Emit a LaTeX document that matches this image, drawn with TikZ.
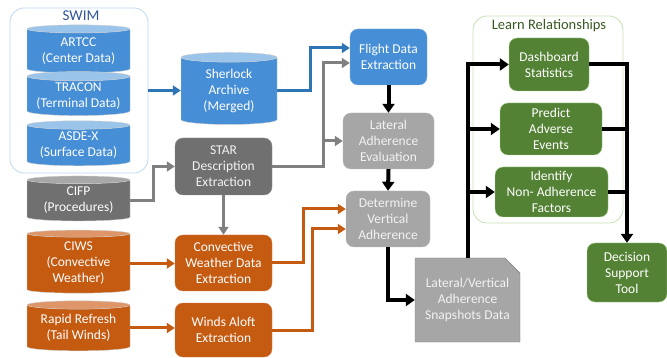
\documentclass[tikz,border=0pt]{standalone}
\usepackage{fontspec}
\setmainfont{Carlito}
\usetikzlibrary{arrows.meta}
\usetikzlibrary{shapes.geometric}
\usetikzlibrary{shapes.misc}
\usetikzlibrary{positioning}
\definecolor{bluebody}{RGB}{70,142,214}
\definecolor{bluetop}{RGB}{155,196,234}
\definecolor{blueline}{RGB}{46,117,182}
\definecolor{grayboxdark}{RGB}{112,112,112}
\definecolor{graytop}{RGB}{168,168,168}
\definecolor{grayboxlight}{RGB}{166,166,166}
\definecolor{grayline}{RGB}{128,128,128}
\definecolor{orangebody}{RGB}{197,90,17}
\definecolor{orangetop}{RGB}{222,150,104}
\definecolor{greenbox}{RGB}{84,130,53}
\definecolor{greenedge}{RGB}{169,209,142}
\definecolor{swimedge}{RGB}{189,215,238}
\definecolor{learnedge}{RGB}{197,224,180}
\definecolor{swimtext}{RGB}{47,85,151}
\definecolor{learntext}{RGB}{56,87,35}
\tikzstyle{db} = [cylinder, shape border rotate=90, aspect=0.11, cylinder uses custom fill, align=center, text=white, minimum width=103pt, inner sep=0pt, draw=white!60!gray, line width=0.4pt]
\tikzstyle{proc} = [rectangle, rounded corners=8pt, align=center, inner sep=2pt, line width=0.4pt]
\tikzstyle{group} = [rectangle, rounded corners=14pt, line width=0.8pt]
\tikzstyle{link} = [line width=3pt, -{Triangle[length=8pt,width=10pt]}]
\tikzstyle{blink} = [line width=4pt, -{Triangle[length=9pt,width=12pt]}]

\begin{document}
\begin{tikzpicture}[x=1pt, y=-1pt, font=\fontsize{13.5}{16}\selectfont]
    \useasboundingbox (0,0) rectangle (667,358);

    \node[group, draw=swimedge, minimum width=138pt, minimum height=165pt](Swim) at (79,90.5) {};
    \node[text=swimtext, font=\fontsize{15}{18}\selectfont](SwimTitle) at (81,16) {SWIM};
    \node[db, cylinder body fill=bluebody, cylinder end fill=bluetop, minimum height=48pt](Artcc) at (78.5,51) {ARTCC\\(Center Data)};
    \node[db, cylinder body fill=bluebody, cylinder end fill=bluetop, minimum height=44pt](Tracon) at (78.5,96) {TRACON\\(Terminal Data)};
    \node[db, cylinder body fill=bluebody, cylinder end fill=bluetop, minimum height=45pt](Asde) at (78.5,145.5) {ASDE-X\\(Surface Data)};
    \node[db, cylinder body fill=grayboxdark, cylinder end fill=graytop, minimum height=45pt](Cifp) at (78.5,200.5) {CIFP\\(Procedures)};
    \node[db, cylinder body fill=orangebody, cylinder end fill=orangetop, minimum height=63pt](Ciws) at (78.5,263.5) {CIWS\\(Convective\\Weather)};
    \node[db, cylinder body fill=orangebody, cylinder end fill=orangetop, minimum height=50pt](Rapid) at (78.5,328) {Rapid Refresh\\(Tail Winds)};

    \node[db, aspect=0.19, cylinder body fill=bluebody, cylinder end fill=bluetop, minimum width=96pt, minimum height=72pt](Sherlock) at (229,91) {Sherlock\\Archive\\(Merged)};
    \node[proc, fill=grayboxdark, draw=grayboxdark!80!white, text=white!95!black, minimum width=97pt, minimum height=57pt](Star) at (223.5,166.5) {STAR\\Description\\Extraction};
    \node[proc, fill=orangebody, draw=orangebody!80!white, text=white, minimum width=97pt, minimum height=56pt](Conv) at (223.5,263) {Convective\\Weather Data\\Extraction};
    \node[proc, fill=orangebody, draw=orangebody!80!white, text=white, minimum width=97pt, minimum height=54pt](Winds) at (223.5,330) {Winds Aloft\\Extraction};

    \node[proc, fill=bluebody, draw=bluebody!70!white, text=white, minimum width=77pt, minimum height=56pt](Flight) at (388.5,57) {Flight Data\\Extraction};
    \node[proc, fill=grayboxlight, draw=grayboxlight!80!white, text=white!95!black, minimum width=91pt, minimum height=56pt](Lateral) at (388.5,141) {Lateral\\Adherence\\Evaluation};
    \node[proc, fill=grayboxlight, draw=grayboxlight!80!white, text=white!95!black, minimum width=84pt, minimum height=56pt](Vertical) at (388,219) {Determine\\Vertical\\Adherence};
    \node[chamfered rectangle, chamfered rectangle corners=north east, chamfered rectangle xsep=8pt, chamfered rectangle ysep=7pt, fill=grayboxlight, draw=grayboxlight!80!black, text=white!95!black, align=center, inner sep=2pt, minimum width=105pt, minimum height=84pt](Snap) at (467.5,300) {Lateral/Vertical\\Adherence\\Snapshots Data};

    \node[group, draw=learnedge, minimum width=150pt, minimum height=207pt](Learn) at (548,119.5) {};
    \node[text=learntext, font=\fontsize{14.5}{17}\selectfont](LearnTitle) at (549,26) {Learn Relationships};
    \node[proc, fill=greenbox, draw=greenedge, text=white, minimum width=80pt, minimum height=53pt](Dash) at (549,64.5) {Dashboard\\Statistics};
    \node[proc, fill=greenbox, draw=greenedge, text=white, minimum width=102pt, minimum height=52pt](Predict) at (551,129) {Predict\\Adverse\\Events};
    \node[proc, fill=greenbox, draw=greenedge, text=white, minimum width=113pt, minimum height=50pt](Identify) at (551.5,192) {Identify\\Non- Adherence\\Factors};
    \node[proc, fill=greenbox, draw=greenedge, text=white, minimum width=80pt, minimum height=59pt](Decision) at (627,272.5) {Decision\\Support\\Tool};

    \draw[link, blueline] (Swim.east) -- (Swim.east -| Sherlock.west);
    \draw[link, blueline] (Sherlock.east) -- ++(33,0) |- ([yshift=9pt]Flight.west);
    \draw[link, grayline] (Star.east) -- ++(51,0) |- ([yshift=-6pt]Flight.west);
    \draw[link, grayline] (Star.east) ++(51,0) |- (Lateral.west);
    \draw[link, grayline] (Cifp.east) -- ++(23,0) |- (Star.west);
    \draw[link, grayline] (Star.south) -- (Conv.north);
    \draw[link, orangebody] (Ciws.east) -- (Ciws.east -| Conv.west);
    \draw[link, orangebody] (Rapid.east) -- (Rapid.east -| Winds.west);
    \draw[link, orangebody] (Conv.east) -- ++(31,0) |- ([yshift=10pt]Vertical.west);
    \draw[link, orangebody] (Winds.east) -- ++(40,0) |- ([yshift=-10pt]Vertical.west);

    \draw[blink] (Flight.south) -- (Lateral.north);
    \draw[blink] (Lateral.south) -- (Vertical.north);
    \draw[blink] (Vertical.south) |- (Snap.west);
    \draw[blink] (Snap.north) |- (Dash.west);
    \draw[blink] (Snap.north) |- (Predict.west);
    \draw[blink] (Snap.north) |- (Identify.west);
    \draw[blink] (Dash.east) -| (Decision.north);
    \draw[line width=4pt] (Predict.east) -- (Predict.east -| Decision.north);
    \draw[line width=4pt] (Identify.east) -- (Identify.east -| Decision.north);
\end{tikzpicture}
\end{document}
